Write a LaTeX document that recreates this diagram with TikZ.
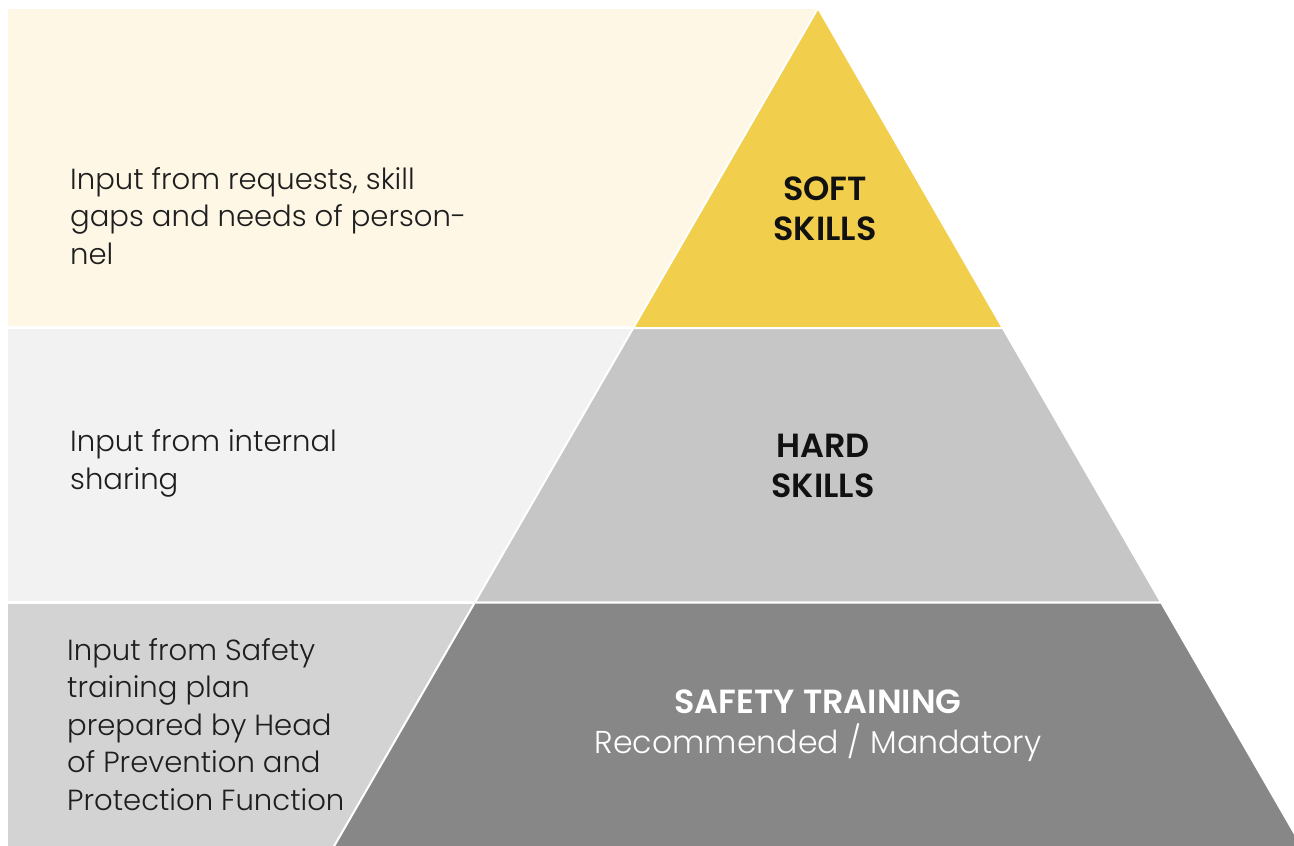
\documentclass[tikz,border=0pt]{standalone}
\usepackage{fontspec}
\setmainfont{Poppins}
\newfontfamily\lightfont{Poppins Light}
\newfontfamily\semifont{Poppins SemiBold}
\definecolor{creamband}{HTML}{FEF7E6}
\definecolor{softfill}{HTML}{F1CF4C}
\definecolor{lightpanel}{HTML}{F2F2F2}
\definecolor{hardfill}{HTML}{C6C6C6}
\definecolor{midpanel}{HTML}{D3D3D3}
\definecolor{safetyfill}{HTML}{878787}
\definecolor{bodytext}{HTML}{1E1E1E}
\definecolor{titletext}{HTML}{111111}
\begin{document}
\begin{tikzpicture}[x=1pt,y=-1pt,
  level/.style={draw=white, line width=2pt, line join=miter},
  bodytxt/.style={anchor=base west, inner sep=0pt, align=left,
    font=\lightfont\fontsize{29.1}{37.5}\selectfont, text=bodytext},
  titletxt/.style={anchor=base, inner sep=0pt, align=center,
    font=\semifont\fontsize{33.5}{40}\selectfont, text=titletext}]
\useasboundingbox (0,0) rectangle (1294,846);
\clip (0,0) rectangle (1294,846);

% background panels behind the pyramid
\fill[creamband]  (8,9)   rectangle (818,326);
\fill[lightpanel] (8,329) rectangle (818,601);
\fill[midpanel]   (8,604) rectangle (818,846);

% pyramid levels (sides at 30 degrees from the vertical, apex at x=818)
\filldraw[level, fill=softfill]   (818,8) -- (1002.8,328) -- (633.2,328) -- cycle;
\filldraw[level, fill=hardfill]   (633.2,328) -- (1002.8,328) -- (1161.2,602.5) -- (474.8,602.5) -- cycle;
\filldraw[level, fill=safetyfill] (474.8,602.5) -- (1161.2,602.5) -- (1320,877.5) -- (316,877.5) -- cycle;

% level titles (anchored on the baseline of their last line)
\node[titletxt] (soft) at (825,240) {SOFT\\SKILLS};
\node[titletxt] (hard) at (823,497) {HARD\\SKILLS};
\node[titletxt, text=white] (safety) at (818,753)
  {SAFETY TRAINING\\{\lightfont\fontsize{31.6}{40}\selectfont Recommended / Mandatory}};

% inputs feeding each level (anchored on the baseline of their last line)
\node[bodytxt] (insoft) at (70,264)
  {Input from requests, skill\\gaps and needs of person-\\nel};
\node[bodytxt] (inhard) at (70,489)
  {Input from internal\\sharing};
\node[bodytxt] (insafety) at (67,810)
  {Input from Safety\\training plan\\prepared by Head\\of Prevention and\\Protection Function};
\end{tikzpicture}
\end{document}
